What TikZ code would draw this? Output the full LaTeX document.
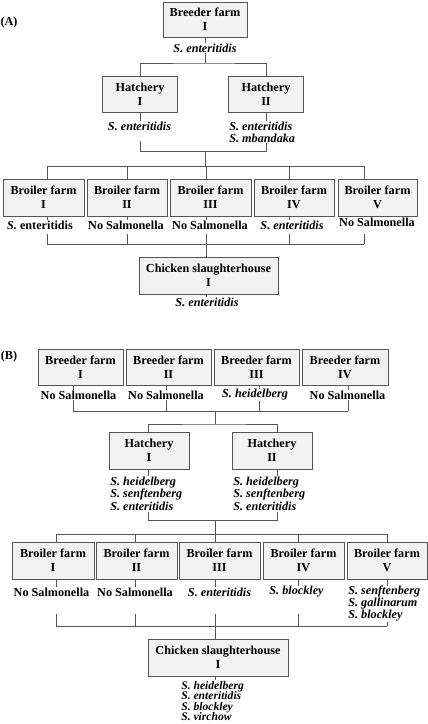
\documentclass[tikz,border=0pt]{standalone}
\usepackage{fontspec}
\setmainfont{Liberation Serif}
\definecolor{boxline}{HTML}{555555}
\definecolor{boxfill}{HTML}{F2F2F2}
\begin{document}
\begin{tikzpicture}[x=1pt,y=-1pt,
  box/.style={draw=boxline, fill=boxfill, line width=0.8pt, align=center, inner sep=0pt,
    font=\fontsize{12.2}{14}\selectfont\bfseries},
  lab/.style={fill=white, inner sep=0.6pt, font=\fontsize{12.2}{14}\selectfont\bfseries\itshape},
  labup/.style={fill=white, inner sep=0.6pt, font=\fontsize{12.2}{14}\selectfont\bfseries},
  tag/.style={inner sep=0pt, font=\fontsize{12.2}{14}\selectfont\bfseries},
  con/.style={draw=boxline, line width=0.8pt}]
\useasboundingbox (0,0) rectangle (428,724);

% ================= Panel A =================
\node[tag] (tA) at (9,23) {(A)};
\node[box, minimum width=84pt, minimum height=35pt] (bA) at (205,19.5) {Breeder farm\\I};
\node[box, minimum width=75pt, minimum height=36pt] (hA1) at (140,94) {Hatchery\\I};
\node[box, minimum width=75pt, minimum height=36pt] (hA2) at (266,94) {Hatchery\\II};
\node[box, minimum width=81pt, minimum height=37pt] (bxA1) at (43.5,197.5) {Broiler farm\\I};
\node[box, minimum width=80pt, minimum height=37pt] (bxA2) at (127,197.5) {Broiler farm\\II};
\node[box, minimum width=81pt, minimum height=37pt] (bxA3) at (210.5,197.5) {Broiler farm\\III};
\node[box, minimum width=80pt, minimum height=37pt] (bxA4) at (294,197.5) {Broiler farm\\IV};
\node[box, minimum width=79pt, minimum height=37pt] (bxA5) at (377.5,197.5) {Broiler farm\\V};
\node[box, minimum width=139pt, minimum height=37pt] (sA) at (208.5,275.5) {Chicken slaughterhouse\\I};

\coordinate (jA0) at (205,63);
\coordinate (jA1) at (205,151);
\coordinate (busA1) at (205,166);
\coordinate (busA2) at (206,244);
\coordinate (dA1) at (0,141);
\coordinate (dA2) at (0,234);
\coordinate (xA1) at (47,0);
\coordinate (xA2) at (127,0);
\coordinate (xA3) at (206,0);
\coordinate (xA4) at (289,0);
\coordinate (xA5) at (364,0);

\draw[con] (bA.south) -- (jA0);
\draw[con] (hA1.north) |- (jA0) -| (hA2.north);
\draw[con] (hA1.south) -- ++(0,10);
\draw[con] (hA2.south) -- ++(0,10);
\draw[con] (hA1.south |- dA1) -- (hA1.south |- jA1) -- (hA2.south |- jA1) -- (hA2.south |- dA1);
\draw[con] (jA1) -- (busA1);
\draw[con] (xA1 |- busA1) -- (xA5 |- busA1);
\foreach \i in {1,...,5} {
  \draw[con] (xA\i |- busA1) -- (xA\i |- bxA\i.north);
  \draw[con] (xA\i |- bxA\i.south) -- ++(0,8);
  \draw[con] (xA\i |- dA2) -- (xA\i |- busA2);
}
\draw[con] (xA1 |- busA2) -- (xA5 |- busA2);
\draw[con] (busA2) -- (busA2 |- sA.north);
\draw[con] (busA2 |- sA.south) -- ++(0,6);

\node[lab] (lbA) at (205,48) {S. enteritidis};
\node[lab] (lhA1) at (139.5,126) {S. enteritidis};
\node[lab, align=left, anchor=west, font=\fontsize{12.2}{12}\selectfont\bfseries\itshape] (lhA2) at (228.5,132) {S. enteritidis\\S. mbandaka};
\node[labup] (lxA1) at (40,225) {\textit{S.} enteritidis};
\node[labup] (lxA2) at (126,225) {No Salmonella};
\node[labup] (lxA3) at (210,225) {No Salmonella};
\node[lab] (lxA4) at (292,225) {S. enteritidis};
\node[labup] (lxA5) at (377,222) {No Salmonella};
\node[lab] (lsA) at (207,302) {S. enteritidis};

% ================= Panel B =================
\node[tag] (tB) at (9,357) {(B)};
\node[box, minimum width=85pt, minimum height=36pt] (brB1) at (80.5,367) {Breeder farm\\I};
\node[box, minimum width=85pt, minimum height=36pt] (brB2) at (168.5,367) {Breeder farm\\II};
\node[box, minimum width=85pt, minimum height=36pt] (brB3) at (256.5,367) {Breeder farm\\III};
\node[box, minimum width=86pt, minimum height=36pt] (brB4) at (345,367) {Breeder farm\\IV};
\node[box, minimum width=80pt, minimum height=37pt] (hB1) at (149,450.5) {Hatchery\\I};
\node[box, minimum width=80pt, minimum height=37pt] (hB2) at (272,450.5) {Hatchery\\II};
\node[box, minimum width=82pt, minimum height=37pt] (bxB1) at (53,560.5) {Broiler farm\\I};
\node[box, minimum width=81pt, minimum height=37pt] (bxB2) at (136.5,560.5) {Broiler farm\\II};
\node[box, minimum width=81pt, minimum height=37pt] (bxB3) at (219.5,560.5) {Broiler farm\\III};
\node[box, minimum width=81pt, minimum height=37pt] (bxB4) at (303.5,560.5) {Broiler farm\\IV};
\node[box, minimum width=80pt, minimum height=37pt] (bxB5) at (387,560.5) {Broiler farm\\V};
\node[box, minimum width=140pt, minimum height=37pt] (sB) at (218,657.5) {Chicken slaughterhouse\\I};

\coordinate (busB0) at (215,411);
\coordinate (jB0) at (215,424);
\coordinate (jB1) at (215,520);
\coordinate (busB1) at (215,534);
\coordinate (busB2) at (215,626);
\coordinate (dB1) at (0,512);
\coordinate (dB2) at (0,614);
\coordinate (dB2e) at (0,621);
\coordinate (xB1) at (73,0);
\coordinate (xB2) at (166,0);
\coordinate (xB3) at (259,0);
\coordinate (xB4) at (348,0);
\coordinate (xH1) at (148,0);
\coordinate (xH2) at (277,0);
\coordinate (xC1) at (56,0);
\coordinate (xC2) at (135,0);
\coordinate (xC3) at (215,0);
\coordinate (xC4) at (298,0);
\coordinate (xC5) at (387,0);

\foreach \i in {1,...,4} {
  \draw[con] (xB\i |- brB\i.south) -- (xB\i |- busB0);
}
\draw[con] (xB1 |- busB0) -- (xB4 |- busB0);
\draw[con] (busB0) -- (jB0);
\draw[con] (xH1 |- hB1.north) |- (jB0) -| (xH2 |- hB2.north);
\draw[con] (xH1 |- hB1.south) -- ++(0,8);
\draw[con] (xH2 |- hB2.south) -- ++(0,8);
\draw[con] (xH1 |- dB1) -- (xH1 |- jB1) -- (xH2 |- jB1) -- (xH2 |- dB1);
\draw[con] (jB1) -- (busB1);
\draw[con] (xC1 |- busB1) -- (xC5 |- busB1);
\foreach \i in {1,...,5} {
  \draw[con] (xC\i |- busB1) -- (xC\i |- bxB\i.north);
  \draw[con] (xC\i |- bxB\i.south) -- ++(0,8);
}
\foreach \i in {1,...,4} {
  \draw[con] (xC\i |- dB2) -- (xC\i |- busB2);
}
\draw[con] (xC5 |- dB2e) -- (xC5 |- busB2);
\draw[con] (xC1 |- busB2) -- (xC5 |- busB2);
\draw[con] (busB2) -- (busB2 |- sB.north);
\draw[con] (busB2 |- sB.south) -- ++(0,6);

\node[labup] (lbB1) at (78.5,395) {No Salmonella};
\node[labup] (lbB2) at (166,395) {No Salmonella};
\node[lab] (lbB3) at (255,395) {S. heidelberg};
\node[labup] (lbB4) at (347.5,395) {No Salmonella};
\node[lab, align=left, anchor=west, font=\fontsize{12.2}{12.5}\selectfont\bfseries\itshape] (lhB1) at (109.5,493.5) {S. heidelberg\\S. senftenberg\\S. enteritidis};
\node[lab, align=left, anchor=west, font=\fontsize{12.2}{12.5}\selectfont\bfseries\itshape] (lhB2) at (232.5,493.5) {S. heidelberg\\S. senftenberg\\S. enteritidis};
\node[labup] (lxB1) at (51.5,592) {No Salmonella};
\node[labup] (lxB2) at (135,592) {No Salmonella};
\node[lab] (lxB3) at (219.5,592) {S. enteritidis};
\node[lab] (lxB4) at (296.5,592) {S. blockley};
\node[lab, align=left, anchor=west, font=\fontsize{12.2}{12}\selectfont\bfseries\itshape] (lxB5) at (347.5,604) {S. senftenberg\\S. gallinarum\\S. blockley};
\node[lab, align=left, anchor=west, font=\fontsize{11.6}{10.6}\selectfont\bfseries\itshape] (lsB) at (180.5,701) {S. heidelberg\\S. enteritidis\\S. blockley\\S. virchow};

\end{tikzpicture}
\end{document}
